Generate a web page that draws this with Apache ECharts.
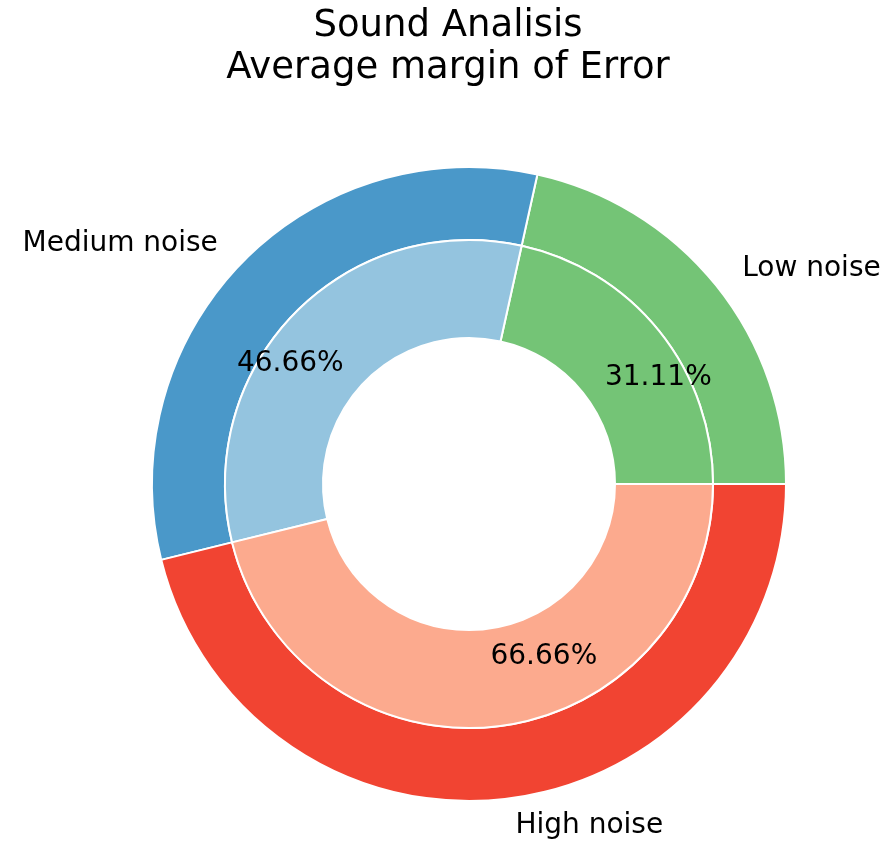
<!DOCTYPE html>
<html>
<head>
<meta charset="utf-8">
<script src="https://cdn.jsdelivr.net/npm/echarts@6/dist/echarts.min.js"></script>
<style>
  html, body { margin: 0; padding: 0; background: #fff; }
  #chart { width: 896px; height: 847px; }
</style>
</head>
<body>
<div id="chart"></div>
<script>
const categories = ['Low noise', 'Medium noise', 'High noise'];
const errorValues = [31.11, 46.66, 66.66];
const outerColors = ['#74c476', '#4a98c9', '#f14432'];
const innerColors = ['#74c476', '#94c4df', '#fcaa8e'];
// nudges so the percent labels sit where the original placed them
const pctOffsets = [[35, 18], [-37, 18], [51, -24]];

const chart = echarts.init(document.getElementById('chart'));

const option = {
  backgroundColor: '#fff',
  title: {
    text: 'Sound Analisis\nAverage margin of Error',
    left: 'center',
    top: 0,
    textStyle: {
      fontFamily: 'DejaVu Sans',
      fontWeight: 'normal',
      fontSize: 37,
      lineHeight: 42,
      color: '#000'
    }
  },
  series: [
    {
      name: 'outer',
      type: 'pie',
      center: [469, 484],
      radius: [244, 317],
      startAngle: 0,
      clockwise: false,
      avoidLabelOverlap: false,
      silent: true,
      itemStyle: { borderColor: '#fff', borderWidth: 2 },
      label: {
        show: true,
        position: 'outside',
        formatter: '{b}',
        fontFamily: 'DejaVu Sans',
        fontSize: 28,
        color: '#000'
      },
      labelLine: { show: false, length: 27, length2: 0 },
      data: categories.map((name, i) => ({
        name: name,
        value: errorValues[i],
        itemStyle: { color: outerColors[i] }
      }))
    },
    {
      name: 'inner',
      type: 'pie',
      center: [469, 484],
      radius: [146, 244],
      startAngle: 0,
      clockwise: false,
      avoidLabelOverlap: false,
      silent: true,
      itemStyle: { borderColor: '#fff', borderWidth: 2 },
      label: {
        show: true,
        position: 'inside',
        formatter: p => p.value.toFixed(2) + '%',
        fontFamily: 'DejaVu Sans',
        fontSize: 28,
        color: '#000'
      },
      labelLine: { show: false },
      data: categories.map((name, i) => ({
        name: name,
        value: errorValues[i],
        itemStyle: { color: innerColors[i] },
        label: { offset: pctOffsets[i] }
      }))
    }
  ]
};

chart.setOption(option);
</script>
</body>
</html>
